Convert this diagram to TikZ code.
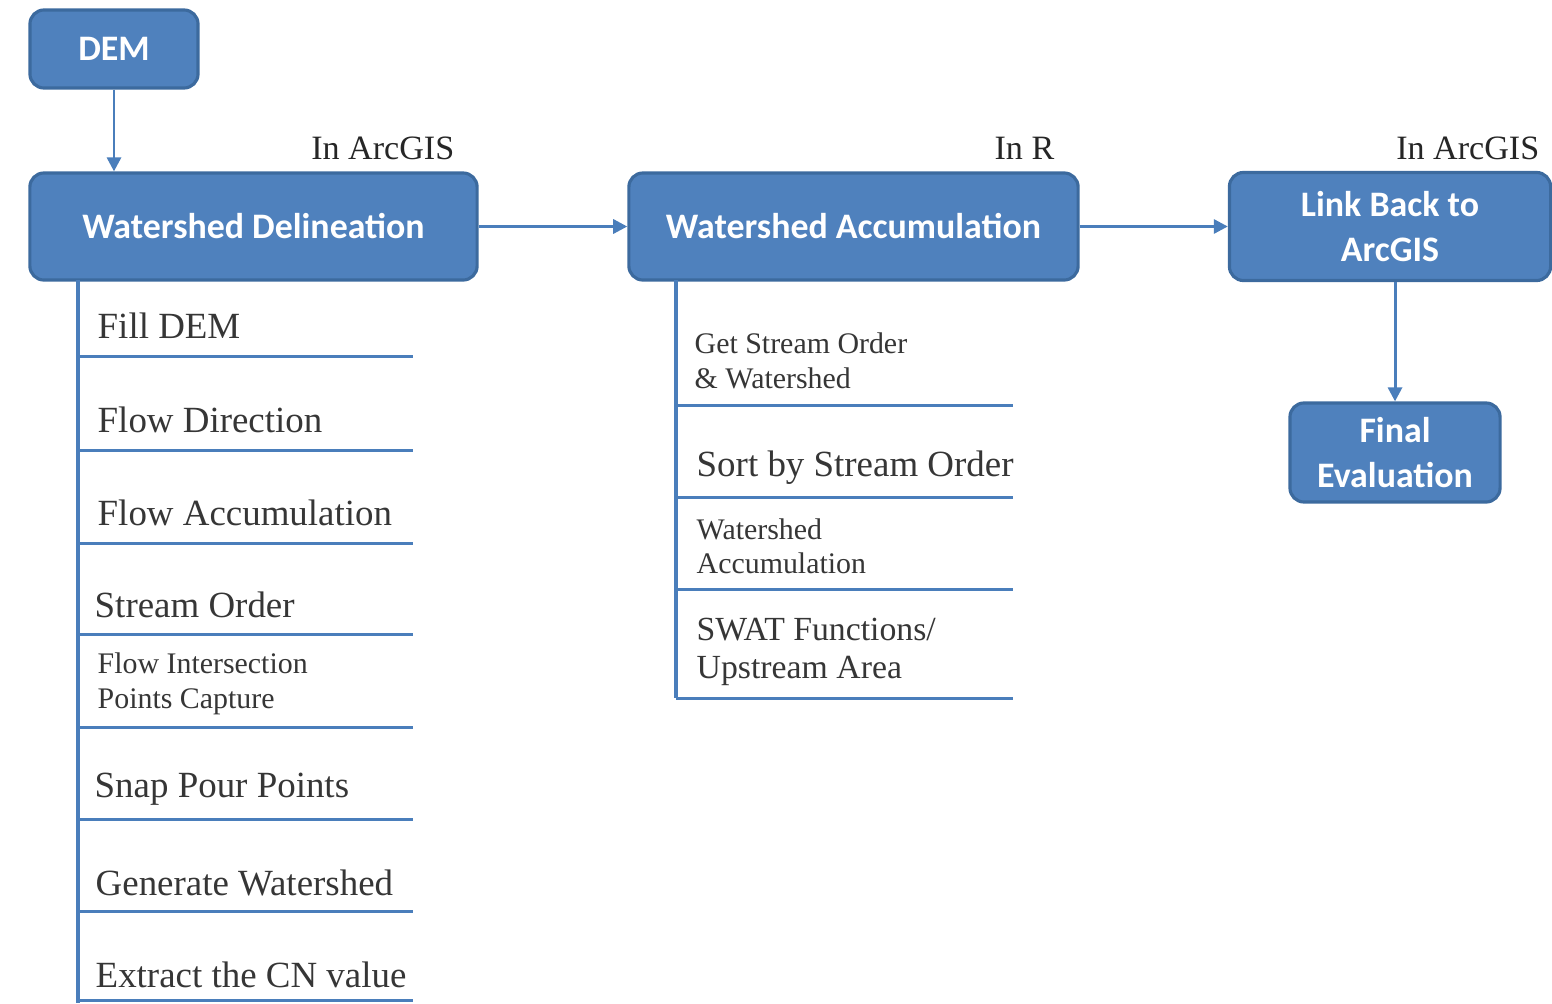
\documentclass[tikz,border=0pt]{standalone}
\usepackage{fontspec}
\setmainfont{Liberation Serif}
\newfontfamily\boxfont{Carlito}
\usetikzlibrary{arrows.meta}
\definecolor{boxblue}{HTML}{4F81BD}
\definecolor{boxedge}{HTML}{3C6A9E}
\definecolor{lineblue}{HTML}{4A7EBB}
\definecolor{itemgray}{HTML}{363636}
\begin{document}
\begin{tikzpicture}[x=0.01cm,y=-0.01cm,>={Triangle[length=4pt,width=4pt]},
    stage/.style={draw=boxedge,line width=0.9pt,fill=boxblue,rounded corners=4pt,
      text=white,align=center,inner sep=0pt,
      font=\boxfont\bfseries\fontsize{10.2}{12.6}\selectfont},
    where/.style={anchor=base east,inner sep=0pt,text=black!85,font=\fontsize{9.7}{12}\selectfont},
    bigitem/.style={anchor=west,inner sep=0pt,text=itemgray,align=left,
      font=\fontsize{10.5}{12.5}\selectfont},
    smallitem/.style={anchor=west,inner sep=0pt,text=itemgray,align=left,
      font=\fontsize{8.5}{9.8}\selectfont},
    flow/.style={->,draw=lineblue,line width=0.85pt},
    trunk/.style={draw=lineblue,line width=1.1pt},
    rule/.style={draw=lineblue,line width=0.85pt}]
    \useasboundingbox (0,0) rectangle (1552,1003);

    % main stages
    \node[stage,minimum width=1.68cm,minimum height=0.78cm] (DEM) at (114,49) {DEM};
    \node[stage,minimum width=4.47cm,minimum height=1.07cm] (WD) at (253.5,226.5) {Watershed Delineation};
    \node[stage,minimum width=4.49cm,minimum height=1.07cm] (WA) at (853.5,226.5) {Watershed Accumulation};
    \node[stage,minimum width=3.21cm,minimum height=1.08cm] (LB) at (1390,226.5) {Link Back to\\ArcGIS};
    \node[stage,minimum width=2.10cm,minimum height=0.99cm] (FE) at (1395,452.5) {Final\\Evaluation};

    % where each stage runs
    \node[where] (tagA) at (455,159) {In ArcGIS};
    \node[where] (tagB) at (1055,159) {In R};
    \node[where] (tagC) at (1540,159) {In ArcGIS};

    \draw[flow] (DEM.south -| 114,0) -- (WD.north -| 114,0);
    \draw[flow] (WD) -- (WA);
    \draw[flow] (WA) -- (LB);
    \draw[flow] (LB.south -| 1395,0) -- (FE);

    % steps in ArcGIS
    \draw[trunk] (78,280) -- (78,1003);
    \foreach \y in {356,450,543,634,727,819,911,1000}
      \draw[rule] (78,\y) -- (413,\y);
    \node[bigitem] (s1) at (97,326) {Fill DEM};
    \node[bigitem] (s2) at (97,420) {Flow Direction};
    \node[bigitem] (s3) at (97,513) {Flow Accumulation};
    \node[bigitem] (s4) at (94,605) {Stream Order};
    \node[smallitem] (s5) at (97,684) {Flow Intersection\\Points Capture};
    \node[bigitem] (s6) at (94,789) {Snap Pour Points};
    \node[bigitem] (s7) at (95,883) {Generate Watershed};
    \node[bigitem] (s8) at (95,975) {Extract the CN value};

    % steps in R
    \draw[trunk] (676,280) -- (676,698);
    \foreach \y in {405,497,589,698}
      \draw[rule] (676,\y) -- (1013,\y);
    \node[smallitem] (r1) at (694,361) {Get Stream Order\\\&~Watershed};
    \node[bigitem] (r2) at (696,468) {Sort by Stream Order};
    \node[smallitem] (r3) at (696,546) {Watershed\\Accumulation};
    \node[bigitem,font=\fontsize{9.6}{10.6}\selectfont] (r4) at (696,652) {SWAT Functions/\\Upstream Area};
\end{tikzpicture}
\end{document}
